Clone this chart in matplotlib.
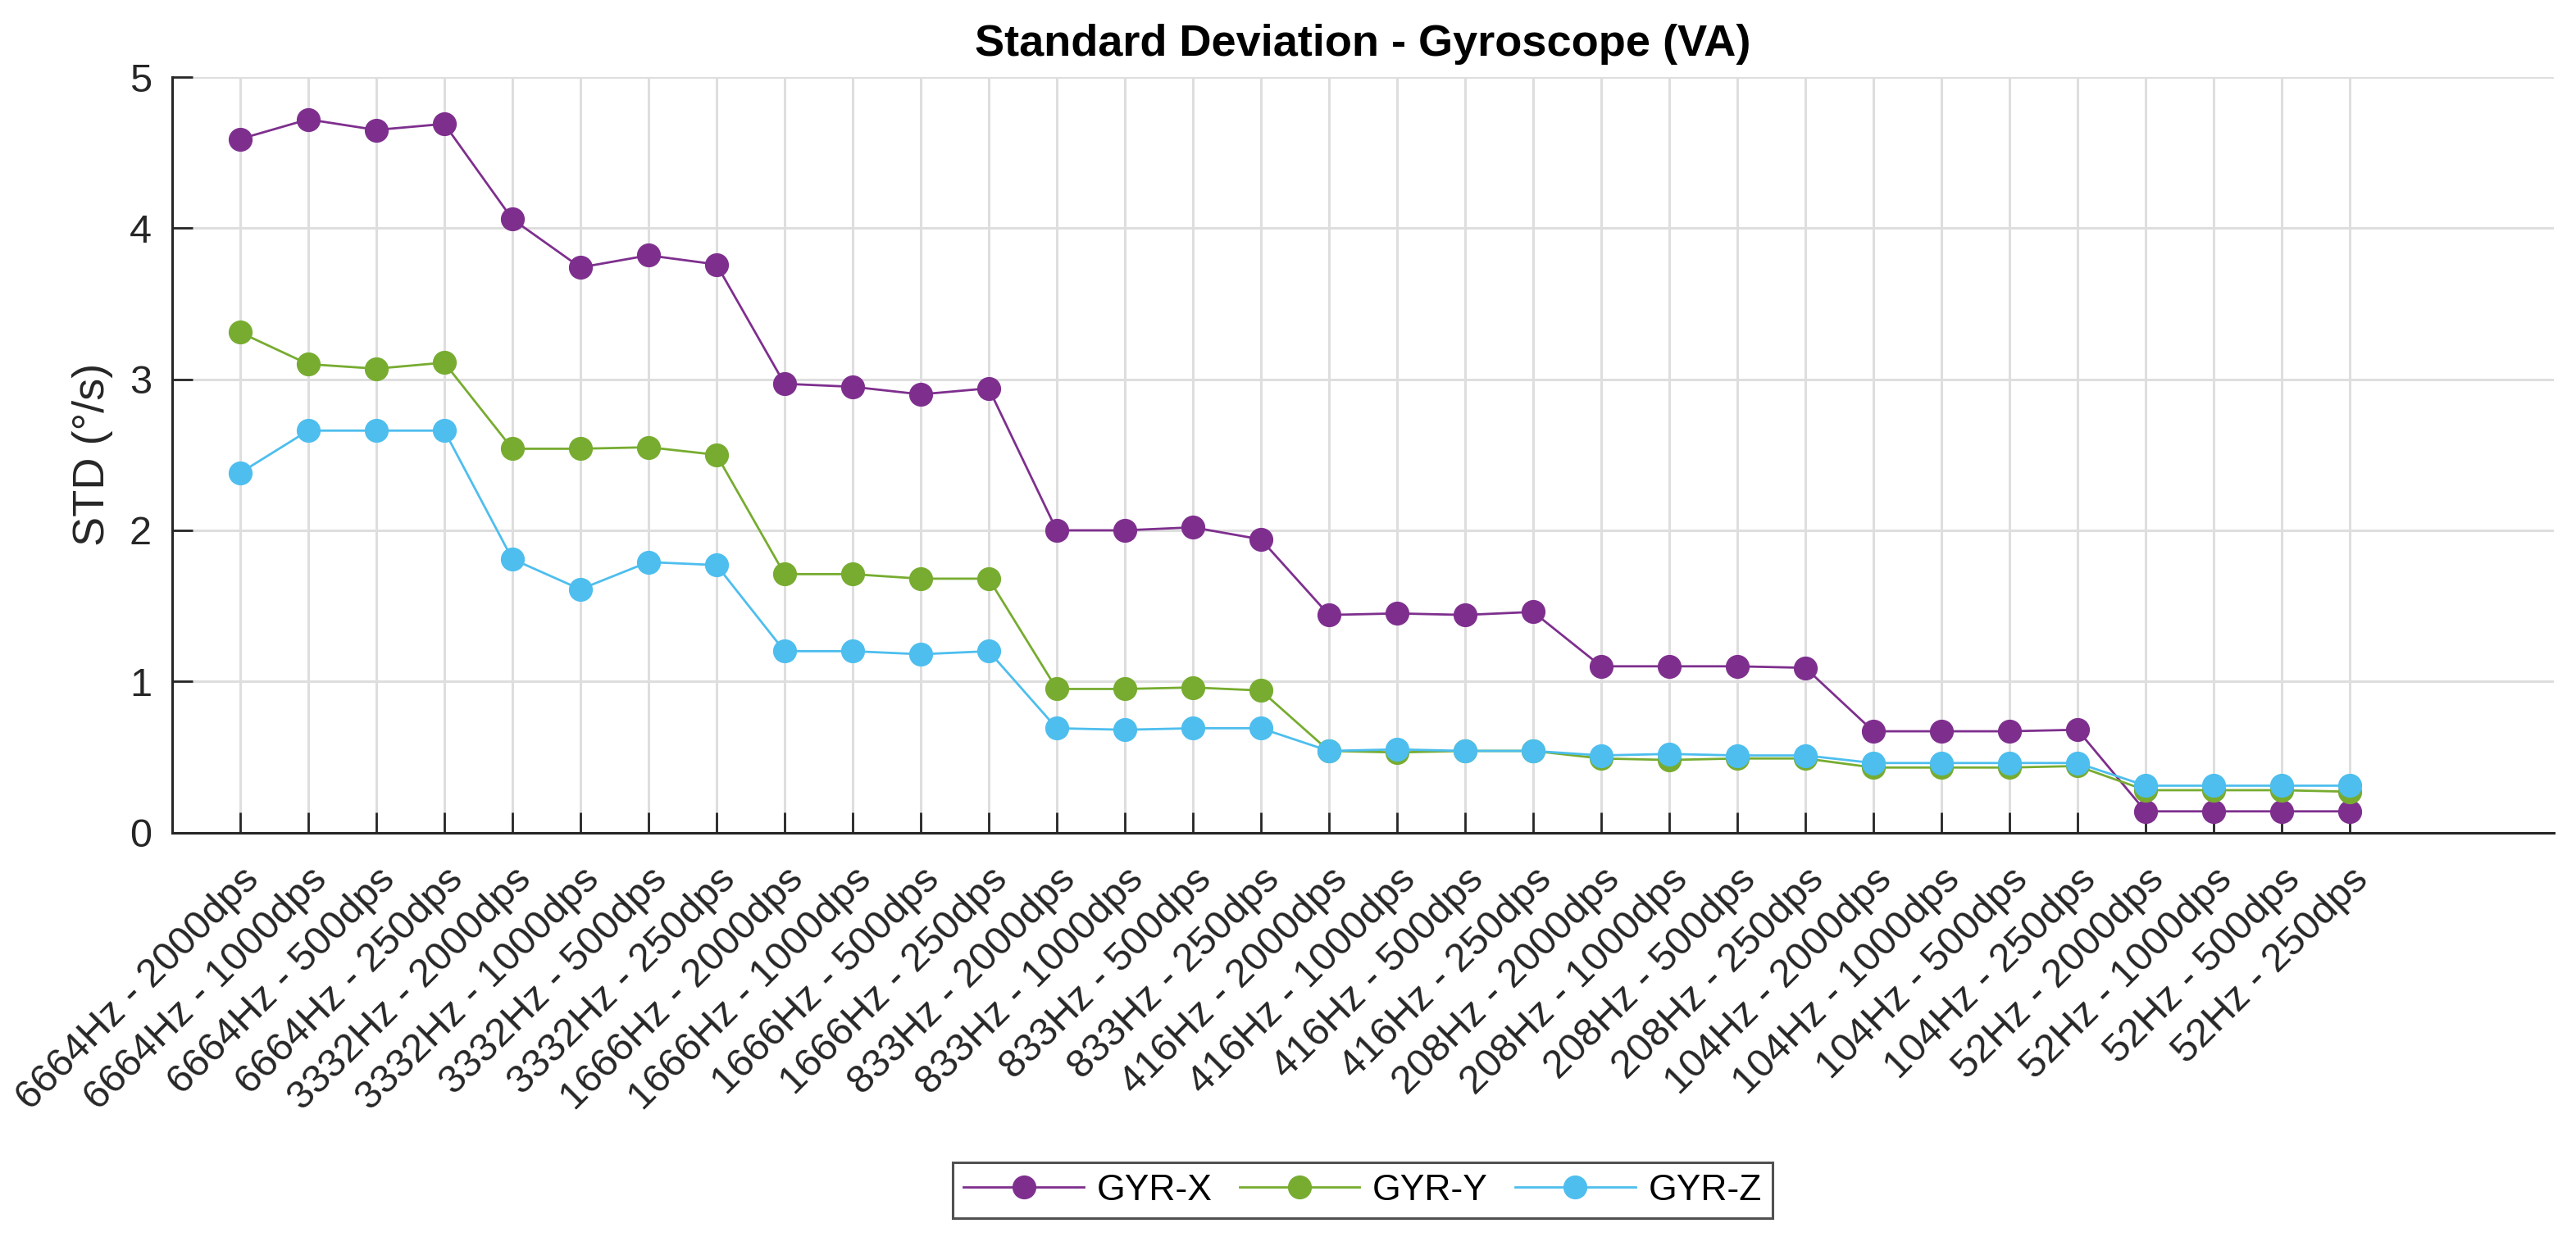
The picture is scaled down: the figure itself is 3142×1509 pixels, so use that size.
import matplotlib
matplotlib.use("Agg")
import matplotlib.pyplot as plt
import numpy as np

plt.rcParams['font.family'] = ['Liberation Sans', 'DejaVu Sans']

# output data rate / full scale combinations on the x axis
ODR_HZ = [6664, 3332, 1666, 833, 416, 208, 104, 52]
FS_DPS = [2000, 1000, 500, 250]
LABELS = [f"{odr}Hz - {fs}dps" for odr in ODR_HZ for fs in FS_DPS]

GYR_X = [4.59, 4.72, 4.65, 4.69, 4.06, 3.74, 3.82, 3.76,
         2.97, 2.95, 2.90, 2.94, 2.00, 2.00, 2.02, 1.94,
         1.44, 1.45, 1.44, 1.46, 1.10, 1.10, 1.10, 1.09,
         0.67, 0.67, 0.67, 0.68, 0.14, 0.14, 0.14, 0.14]
GYR_Y = [3.31, 3.10, 3.07, 3.11, 2.54, 2.54, 2.55, 2.50,
         1.71, 1.71, 1.68, 1.68, 0.95, 0.95, 0.96, 0.94,
         0.54, 0.53, 0.54, 0.54, 0.49, 0.48, 0.49, 0.49,
         0.43, 0.43, 0.43, 0.44, 0.28, 0.28, 0.28, 0.27]
GYR_Z = [2.38, 2.66, 2.66, 2.66, 1.81, 1.61, 1.79, 1.77,
         1.20, 1.20, 1.18, 1.20, 0.69, 0.68, 0.69, 0.69,
         0.54, 0.55, 0.54, 0.54, 0.51, 0.52, 0.51, 0.51,
         0.46, 0.46, 0.46, 0.46, 0.31, 0.31, 0.31, 0.31]

SERIES = (
    ("GYR-X", GYR_X, "#7E2F8E"),
    ("GYR-Y", GYR_Y, "#77AC30"),
    ("GYR-Z", GYR_Z, "#4DBEEE"),
)

AX_COLOR = "#262626"


def main():
    fig = plt.figure(figsize=(31.42, 15.09), dpi=100)
    ax = fig.add_axes([0.0668, 0.327, 0.9246, 0.6107])

    x = np.arange(1, len(LABELS) + 1)
    for name, vals, color in SERIES:
        ax.plot(x, vals, '-o', color=color, lw=2, ms=20, mew=1, label=name)

    ax.set_xlim(0, 35)
    ax.set_ylim(0, 5)
    ax.set_xticks(x)
    ax.set_xticklabels(LABELS, rotation=45, ha='right', va='top', rotation_mode='anchor')
    ax.set_yticks(range(6))

    ax.grid(True, color="#dedede", lw=2.2)
    ax.set_axisbelow(True)
    for side in ("top", "right"):
        ax.spines[side].set_visible(False)
    for side in ("left", "bottom"):
        ax.spines[side].set_color(AX_COLOR)
        ax.spines[side].set_linewidth(2.2)

    ax.tick_params(direction='in', length=18, width=2, colors=AX_COLOR, labelsize=35)
    ax.tick_params(axis='x', pad=25)
    ax.tick_params(axis='y', pad=18)

    ax.set_ylabel("STD (°/s)", fontsize=39, color=AX_COLOR, labelpad=14)
    ax.set_title("Standard Deviation - Gyroscope (VA)", fontsize=39, fontweight='bold', pad=19)

    leg = fig.legend(loc='center', bbox_to_anchor=(1662 / 3142, 1 - 1452 / 1509), ncol=3,
                     fontsize=32, frameon=True, fancybox=False, edgecolor=AX_COLOR,
                     handlelength=3.3, handletextpad=0.35, columnspacing=0.75,
                     borderpad=0.3, borderaxespad=0)
    leg.get_frame().set_linewidth(2.2)

    fig.savefig("out.png", dpi=100)
    plt.close(fig)


if __name__ == "__main__":
    main()
